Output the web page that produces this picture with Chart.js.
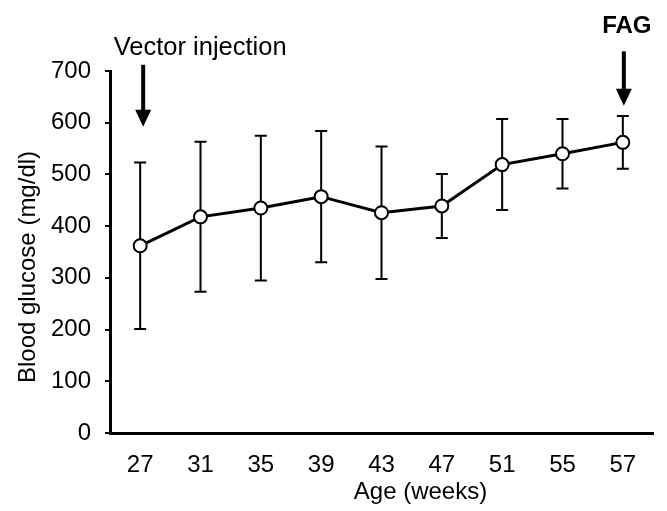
<!DOCTYPE html>
<html>
<head>
<meta charset="utf-8">
<script src="https://cdn.jsdelivr.net/npm/chart.js@4.4.1/dist/chart.umd.min.js"></script>
<style>
  html, body { margin: 0; padding: 0; background: #fff; }
  #wrap { width: 667px; height: 511px; }
</style>
</head>
<body>
<div id="wrap"><canvas id="chart-glucose"></canvas></div>
<script>
// data
var weeks = ['27', '31', '35', '39', '43', '47', '51', '55', '57'];
var glucoseMean = [362, 418, 435, 457, 426, 439, 519, 540, 562];
var glucoseSD = [161, 145, 140, 127, 128, 62, 88, 67, 51];
var yTicks = [0, 100, 200, 300, 400, 500, 600, 700];

var FONT = "'Liberation Sans', Arial, Helvetica, sans-serif";

// error bars under the line, arrows + titles on top
var figurePlugin = {
    id: 'figure',
    beforeDatasetsDraw: function(chart) {
        var ctx = chart.ctx;
        var y = chart.scales.y;
        var meta = chart.getDatasetMeta(0);
        ctx.save();
        ctx.strokeStyle = '#000';
        ctx.lineWidth = 2;
        meta.data.forEach(function(pt, i) {
            var top = y.getPixelForValue(glucoseMean[i] + glucoseSD[i]);
            var bot = y.getPixelForValue(glucoseMean[i] - glucoseSD[i]);
            ctx.beginPath();
            ctx.moveTo(pt.x, top); ctx.lineTo(pt.x, bot);
            ctx.moveTo(pt.x - 6, top); ctx.lineTo(pt.x + 6, top);
            ctx.moveTo(pt.x - 6, bot); ctx.lineTo(pt.x + 6, bot);
            ctx.stroke();
        });
        ctx.restore();
    },
    afterDraw: function(chart) {
        var ctx = chart.ctx;
        var x = chart.scales.x;
        var y = chart.scales.y;
        var area = chart.chartArea;

        function arrow(px, fromVal, toVal) {
            var y0 = y.getPixelForValue(fromVal);
            var y1 = y.getPixelForValue(toVal);
            ctx.beginPath();
            ctx.lineWidth = 4;
            ctx.moveTo(px, y0); ctx.lineTo(px, y1 - 14);
            ctx.stroke();
            ctx.beginPath();
            ctx.moveTo(px - 8, y1 - 17);
            ctx.lineTo(px + 8, y1 - 17);
            ctx.lineTo(px, y1);
            ctx.closePath();
            ctx.fill();
        }

        ctx.save();
        ctx.fillStyle = '#000';
        ctx.strokeStyle = '#000';

        var xFirst = x.getPixelForValue(0) + 3;
        var xLast = x.getPixelForValue(weeks.length - 1) + 1;
        arrow(xFirst, 712, 592);
        arrow(xLast, 738, 633);

        ctx.textAlign = 'center';
        ctx.textBaseline = 'alphabetic';
        ctx.font = '25.5px ' + FONT;
        ctx.fillText('Vector injection', xFirst + 57, y.getPixelForValue(730));
        ctx.font = 'bold 24px ' + FONT;
        ctx.fillText('FAG', xLast + 3, y.getPixelForValue(773));

        // axis titles
        ctx.font = '24px ' + FONT;
        ctx.fillText('Age (weeks)', (area.left + area.right) / 2 + 39, 499);
        ctx.translate(35, (area.top + area.bottom) / 2 + 15);
        ctx.rotate(-Math.PI / 2);
        ctx.fillText('Blood glucose (mg/dl)', 0, 0);
        ctx.restore();
    }
};

var ctx = document.getElementById('chart-glucose').getContext('2d');

new Chart(ctx, {
    type: 'line',
    data: {
        labels: weeks,
        datasets: [{
            data: glucoseMean,
            borderColor: '#000',
            borderWidth: 3,
            pointRadius: 6.5,
            pointBorderWidth: 2,
            pointBackgroundColor: '#fff',
            pointBorderColor: '#000',
            tension: 0,
            fill: false
        }]
    },
    options: {
        responsive: true,
        maintainAspectRatio: false,
        animation: false,
        layout: { padding: { top: 71, right: 14, bottom: 0, left: 0 } },
        plugins: {
            legend: { display: false },
            tooltip: { enabled: false }
        },
        scales: {
            x: {
                offset: true,
                grid: { display: false },
                border: { display: true, color: '#000', width: 3 },
                ticks: {
                    color: '#000',
                    padding: 10,
                    maxRotation: 0,
                    font: { family: FONT, size: 24 }
                },
                afterFit: function(scale) { scale.height = 78; }
            },
            y: {
                min: 0,
                max: 700,
                afterBuildTicks: function(scale) {
                    scale.ticks = yTicks.map(function(v) { return { value: v }; });
                },
                grid: {
                    drawOnChartArea: false,
                    drawTicks: true,
                    tickLength: 5,
                    color: '#000',
                    lineWidth: 2
                },
                border: { display: true, color: '#000', width: 3 },
                ticks: {
                    color: '#000',
                    padding: 14,
                    font: { family: FONT, size: 24 }
                },
                afterFit: function(scale) { scale.width = 110; }
            }
        }
    },
    plugins: [figurePlugin]
});
</script>
</body>
</html>
